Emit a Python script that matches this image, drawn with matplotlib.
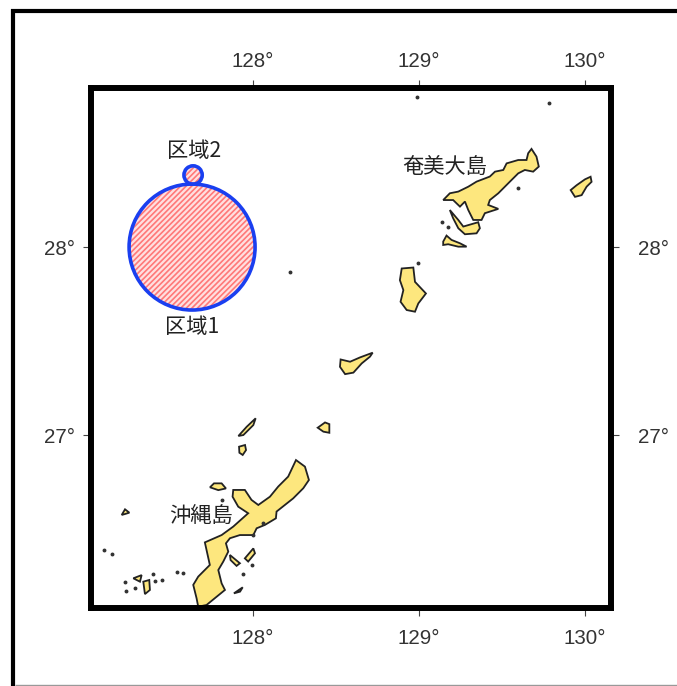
import matplotlib
matplotlib.use("Agg")
import matplotlib.pyplot as plt
from matplotlib.lines import Line2D
from matplotlib.patches import Ellipse, Polygon

plt.rcParams['font.family'] = ['Liberation Sans', 'DejaVu Sans']
plt.rcParams['hatch.linewidth'] = 1.2

# 経度・緯度の目盛
lon_ticks = [128, 129, 130]
lat_ticks = [27, 28]
lon_labels = ['128°', '129°', '130°']
lat_labels = ['27°', '28°']

# 島の輪郭 (経度, 緯度)
amami = [(129.678, 28.522), (129.708, 28.481), (129.722, 28.428), (129.688, 28.401),
         (129.638, 28.410), (129.598, 28.392), (129.548, 28.348), (129.478, 28.286),
         (129.427, 28.250), (129.417, 28.224), (129.478, 28.203), (129.397, 28.180),
         (129.377, 28.144), (129.327, 28.144), (129.297, 28.197), (129.277, 28.242),
         (129.247, 28.215), (129.206, 28.250), (129.146, 28.250), (129.186, 28.286),
         (129.237, 28.295), (129.297, 28.321), (129.347, 28.348), (129.427, 28.375),
         (129.458, 28.401), (129.508, 28.410), (129.528, 28.445), (129.598, 28.463),
         (129.648, 28.463), (129.658, 28.499)]
kakeroma = [(129.186, 28.197), (129.237, 28.144), (129.267, 28.109), (129.357, 28.132),
            (129.367, 28.100), (129.347, 28.073), (129.277, 28.068), (129.237, 28.100),
            (129.206, 28.153)]
uke = [(129.146, 28.029), (129.166, 28.061), (129.196, 28.038), (129.247, 28.020),
       (129.287, 28.002), (129.237, 28.002), (129.176, 28.015), (129.146, 28.011)]
kikai = [(129.914, 28.303), (129.950, 28.329), (130.000, 28.360), (130.034, 28.374),
         (130.040, 28.347), (130.010, 28.321), (129.980, 28.276), (129.940, 28.267)]
tokunoshima = [(128.896, 27.886), (128.966, 27.891), (128.976, 27.815), (129.042, 27.753),
               (128.996, 27.700), (128.976, 27.656), (128.926, 27.665), (128.889, 27.709),
               (128.906, 27.771), (128.885, 27.824)]
okinoerabu = [(128.528, 27.402), (128.585, 27.390), (128.645, 27.413), (128.721, 27.438),
              (128.705, 27.417), (128.655, 27.381), (128.605, 27.332), (128.555, 27.324),
              (128.524, 27.363)]
yoron = [(128.390, 27.039), (128.434, 27.067), (128.460, 27.058), (128.460, 27.012),
         (128.424, 27.018)]
okinawa = [(128.259, 26.867), (128.313, 26.832), (128.337, 26.761), (128.303, 26.717),
           (128.242, 26.663), (128.192, 26.628), (128.142, 26.593), (128.138, 26.557),
           (128.072, 26.522), (128.022, 26.504), (128.002, 26.468), (127.921, 26.468),
           (127.861, 26.451), (127.837, 26.424), (127.851, 26.380), (127.821, 26.327),
           (127.791, 26.282), (127.811, 26.211), (127.831, 26.176), (127.781, 26.140),
           (127.720, 26.096), (127.670, 26.087), (127.660, 26.132), (127.640, 26.203),
           (127.670, 26.247), (127.740, 26.309), (127.710, 26.429), (127.811, 26.468),
           (127.881, 26.513), (127.971, 26.584), (127.911, 26.619), (127.877, 26.672),
           (127.881, 26.708), (127.951, 26.708), (127.991, 26.655), (128.032, 26.628),
           (128.102, 26.672), (128.152, 26.726), (128.212, 26.779)]
iheya = [(127.912, 26.995), (127.962, 27.044), (128.016, 27.089), (128.002, 27.053),
         (127.942, 27.000)]
izena = [(127.916, 26.938), (127.952, 26.947), (127.958, 26.920), (127.938, 26.894),
         (127.918, 26.906)]
ie = [(127.741, 26.722), (127.765, 26.743), (127.811, 26.743), (127.837, 26.716),
      (127.791, 26.707)]
aguni = [(127.209, 26.575), (127.229, 26.605), (127.255, 26.587), (127.229, 26.580)]
ikei = [(127.951, 26.344), (128.002, 26.397), (128.012, 26.371), (127.971, 26.327)]
hamahiga = [(127.861, 26.362), (127.921, 26.318), (127.901, 26.304), (127.865, 26.335)]
kudaka = [(127.885, 26.158), (127.938, 26.190), (127.922, 26.167)]
tokashiki = [(127.339, 26.220), (127.375, 26.229), (127.379, 26.176), (127.349, 26.154)]
zamami = [(127.279, 26.238), (127.329, 26.255), (127.319, 26.220)]

islands = [amami, kakeroma, uke, kikai, tokunoshima, okinoerabu, yoron, okinawa,
           iheya, izena, ie, aguni, ikei, hamahiga, kudaka, tokashiki, zamami]

# 小さな島
islet_lon = [127.102, 127.149, 127.229, 127.289, 127.235, 127.400, 127.410, 127.450,
             127.544, 127.580, 127.942, 127.992, 127.811, 128.062, 128.002,
             129.137, 129.177, 128.996, 129.598, 128.988, 129.783, 128.223]
islet_lat = [26.388, 26.367, 26.220, 26.184, 26.172, 26.261, 26.225, 26.229,
             26.270, 26.264, 26.261, 26.308, 26.654, 26.530, 26.468,
             28.134, 28.108, 27.916, 28.312, 28.800, 28.766, 27.869]

# 区域の中心と半径 (度)
area_lon = [127.633, 127.639]
area_lat = [28.000, 28.383]
area_width = [0.759, 0.110]
area_height = [0.670, 0.098]

# 地名
place_names = ['奄美大島', '沖縄島', '区域2', '区域1']
place_lon = [129.157, 127.687, 127.645, 127.633]
place_lat = [28.426, 26.569, 28.510, 27.574]

fig = plt.figure(figsize=(6.77, 6.86), dpi=100)
ax = fig.add_axes([91 / 677, 1 - 608 / 686, 520 / 677, 520 / 686])
ax.set_xlim(127.024, 130.157)
ax.set_ylim(26.080, 28.846)

for isl in islands:
    ax.add_patch(Polygon(isl, closed=True, facecolor='#fde77e', edgecolor='#222222',
                         linewidth=1.3, zorder=2))
ax.plot(islet_lon, islet_lat, ls='none', marker='o', ms=1.8, color='#333333', zorder=2)

# 区域の円
for lon, lat, w, h in zip(area_lon, area_lat, area_width, area_height):
    ax.add_patch(Ellipse((lon, lat), w, h, facecolor='#ffe0e0', edgecolor='#ff7878',
                         hatch='//////', linewidth=0, zorder=3))
    ax.add_patch(Ellipse((lon, lat), w, h, facecolor='none', edgecolor='#1a3ff0',
                         linewidth=2.6, zorder=4))

for name, lon, lat in zip(place_names, place_lon, place_lat):
    ax.text(lon, lat, name, ha='center', va='center', fontsize=15.3, color='#222222',
            family=['Noto Sans CJK JP', 'DejaVu Sans'], zorder=5)

tick_style = dict(direction='out', length=6, width=0.8, labelsize=14.8,
                  color='#444444', labelcolor='#333333')
ax.set_xticks(lon_ticks, lon_labels)
ax.set_yticks(lat_ticks, lat_labels)
ax.tick_params(axis='x', pad=9, **tick_style)
ax.tick_params(axis='y', pad=5.5, **tick_style)
for s in ax.spines.values():
    s.set_linewidth(4.3)
    s.set_zorder(6)

# 上と右の目盛は間隔が違うので別の軸で描く
top = ax.secondary_xaxis('top')
top.set_xticks(lon_ticks, lon_labels)
top.tick_params(pad=6.5, **tick_style)
top.spines['top'].set_visible(False)
right = ax.secondary_yaxis('right')
right.set_yticks(lat_ticks, lat_labels)
right.tick_params(pad=13.5, **tick_style)
right.spines['right'].set_visible(False)

# 外枠
def frame_line(x0, y0, x1, y1, lw, color):
    fig.add_artist(Line2D([x0 / 677, x1 / 677], [1 - y0 / 686, 1 - y1 / 686],
                          color=color, linewidth=lw, solid_capstyle='butt'))

frame_line(11, 10.5, 677, 10.5, 3.0, 'black')
frame_line(13, 9, 13, 686, 3.0, 'black')
frame_line(15, 684.5, 677, 684.5, 1.0, '#999999')

fig.savefig('out.png', dpi=100)
